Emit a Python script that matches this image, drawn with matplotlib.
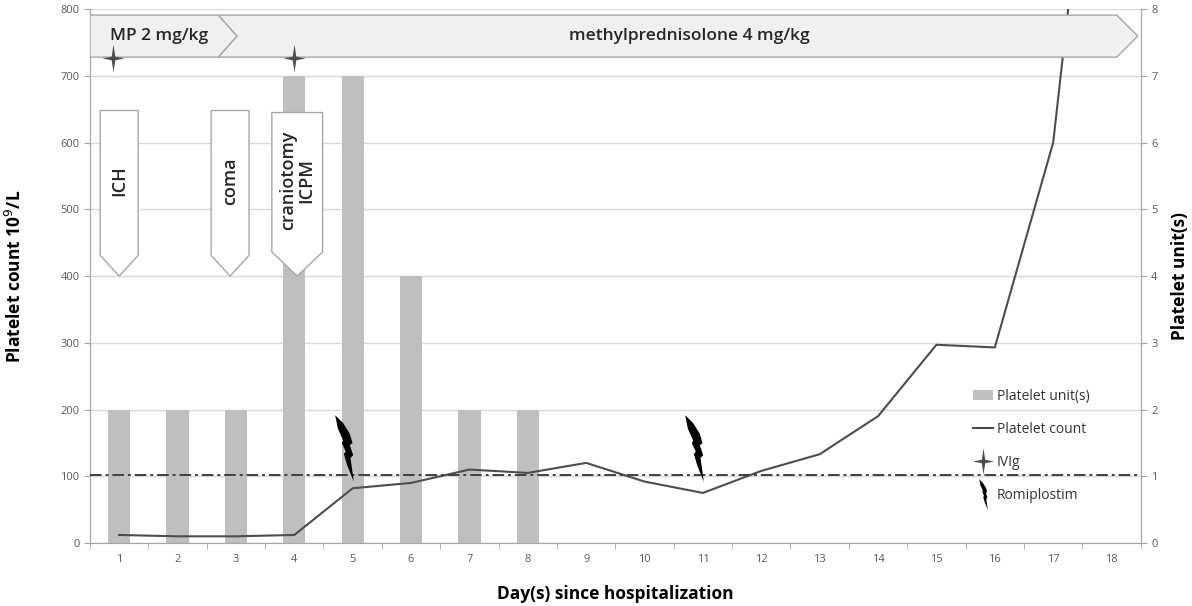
import numpy as np
import matplotlib.pyplot as plt
from matplotlib.path import Path
from matplotlib.patches import Polygon, Patch
from matplotlib.lines import Line2D

plt.rcParams['font.family'] = ['Open Sans', 'DejaVu Sans']

# ---- data ----
days = list(range(1, 19))
platelet_count = [12, 10, 10, 12, 82, 90, 110, 105, 120, 92, 75, 108, 133, 190, 297, 293, 600, 1380]
platelet_units = [2, 2, 2, 7, 7, 4, 2, 2, 0, 0, 0, 0, 0, 0, 0, 0, 0, 0]
threshold = 102

ivig_days = [0.9, 4.0]
romiplostim_days = [5, 11]

event_days = [1, 2.9, 4.05]
event_labels = ["ICH", "coma", "craniotomy\nICPM"]

mp_low_label = "MP 2 mg/kg"
mp_high_label = "methylprednisolone 4 mg/kg"

# ---- colours ----
bar_color = "#bfbfbf"
line_color = "#4d4d4d"
grid_color = "#d9d9d9"
spine_color = "#a6a6a6"
tick_color = "#595959"
arrow_fill = "#f0f0f0"
arrow_edge = "#a6a6a6"

# ---- custom markers ----
star_verts = [(0, 1), (0.13, 0.13), (0.8, 0), (0.13, -0.13),
              (0, -1), (-0.13, -0.13), (-0.8, 0), (-0.13, 0.13), (0, 1)]
star_marker = Path(star_verts, closed=True)

bolt = np.array([
    (0.00, 1.00), (0.12, 0.88), (0.22, 0.72), (0.26, 0.58), (0.22, 0.55),
    (0.27, 0.40), (0.23, 0.36), (0.28, 0.00), (0.18, 0.25), (0.13, 0.42),
    (0.16, 0.45), (0.10, 0.58), (0.12, 0.62), (0.04, 0.80), (0.00, 1.00),
])
bolt = bolt - [0.14, 0.5]
bolt_marker = Path(bolt, closed=True)

# ---- figure ----
fig, ax = plt.subplots(figsize=(11.92, 6.06), dpi=100)
plt.subplots_adjust(left=0.0755, right=0.957, bottom=0.104, top=0.985)
ax2 = ax.twinx()
ax.set_zorder(ax2.get_zorder() + 1)
ax.patch.set_visible(False)

# bars on right axis
ax2.bar(days, platelet_units, width=0.38, color=bar_color, zorder=2)
ax2.set_ylim(0, 8)
ax2.set_yticks(range(0, 9))
ax2.grid(axis="y", color=grid_color, linewidth=1.0, zorder=0)
ax2.set_axisbelow(True)

# platelet count line
ax.plot(days, platelet_count, color=line_color, linewidth=1.5, zorder=3)
ax.axhline(threshold, color="#404040", linewidth=1.4,
           linestyle=(0, (6, 2, 1.5, 2)), zorder=3)

ax.set_xlim(0.5, 18.5)
ax.set_ylim(0, 800)
ax.set_yticks(range(0, 801, 100))
ax.set_xticks(days)
ax.set_xticks(np.arange(0.5, 19, 1), minor=True)
ax.tick_params(axis="x", which="major", length=0, pad=8)
ax.tick_params(axis="x", which="minor", length=4, color=spine_color)

for a in (ax, ax2):
    a.tick_params(axis="both", labelsize=8, labelcolor=tick_color, color=spine_color)
    for side in a.spines:
        a.spines[side].set_color(spine_color)
    a.spines["top"].set_visible(False)
ax.tick_params(axis="y", length=4)
ax2.tick_params(axis="y", length=4)

# treatment arrows on top
y_lo, y_hi = 728, 791
y_mid = (y_lo + y_hi) / 2
mp_switch, mp_tip = 2.70, 3.02
ax.add_patch(Polygon([(0.5, y_hi), (mp_switch, y_hi), (mp_tip, y_mid),
                      (mp_switch, y_lo), (0.5, y_lo)],
                     closed=True, facecolor=arrow_fill, edgecolor=arrow_edge,
                     linewidth=1.0, zorder=5))
ax.add_patch(Polygon([(mp_switch, y_hi), (18.09, y_hi), (18.45, y_mid),
                      (18.09, y_lo), (mp_switch, y_lo), (mp_tip, y_mid)],
                     closed=True, facecolor=arrow_fill, edgecolor=arrow_edge,
                     linewidth=1.0, zorder=5))
ax.text(0.85, y_mid, mp_low_label, fontsize=12.5, fontweight="semibold",
        color="#262626", va="center", ha="left", zorder=6)
ax.text(10.76, y_mid, mp_high_label, fontsize=12.5, fontweight="semibold",
        color="#262626", va="center", ha="center", zorder=6)

# event arrows pointing down
event_widths = [0.65, 0.65, 0.87]
event_tops = [648, 648, 645]
event_shoulder = [431, 431, 436]
event_tip = 400
for d, lab, w, top, sh in zip(event_days, event_labels, event_widths, event_tops, event_shoulder):
    ax.add_patch(Polygon([(d - w / 2, top), (d + w / 2, top), (d + w / 2, sh),
                          (d, event_tip), (d - w / 2, sh)],
                         closed=True, facecolor="white", edgecolor=arrow_edge,
                         linewidth=1.0, zorder=4))
    ax.text(d, (top + sh) / 2 + 3, lab, rotation=90, ha="center", va="center",
            fontsize=13, fontweight="semibold", color="#262626",
            linespacing=1.05, zorder=6)

# IVIg stars
ax.plot(ivig_days, [726] * len(ivig_days), linestyle="none", marker=star_marker,
        markersize=20, markerfacecolor="#4d4d4d", markeredgecolor="none", zorder=7)

# romiplostim bolts
ax.plot([d - 0.15 for d in romiplostim_days], [142] * len(romiplostim_days),
        linestyle="none", marker=bolt_marker, markersize=48,
        markerfacecolor="black", markeredgecolor="none", zorder=7)

# axis labels
ax.set_xlabel("Day(s) since hospitalization", fontsize=12.5, fontweight="bold")
ax.xaxis.set_label_coords(0.5, -0.078)
ax.set_ylabel("Platelet count 10$^{9}$/L", fontsize=12.5, fontweight="bold")
ax.yaxis.set_label_coords(-0.062, 0.5)
ax2.set_ylabel("Platelet unit(s)", fontsize=12.5, fontweight="bold")
ax2.yaxis.set_label_coords(1.029, 0.5)

# legend
handles = [
    Patch(facecolor=bar_color, edgecolor="none", label="Platelet unit(s)"),
    Line2D([0], [0], color=line_color, linewidth=1.5, label="Platelet count"),
    Line2D([0], [0], linestyle="none", marker=star_marker, markersize=19,
           markerfacecolor="#4d4d4d", markeredgecolor="none", label="IVIg"),
    Line2D([0], [0], linestyle="none", marker=bolt_marker, markersize=22,
           markerfacecolor="black", markeredgecolor="none", label="Romiplostim"),
]
leg = ax.legend(handles=handles, loc="upper left", bbox_to_anchor=(0.828, 0.312),
                frameon=False, fontsize=10, labelspacing=1.3,
                handlelength=1.5, handletextpad=0.25)
for t in leg.get_texts():
    t.set_color("#333333")
leg.set_zorder(8)

fig.savefig("out.png", dpi=100)
